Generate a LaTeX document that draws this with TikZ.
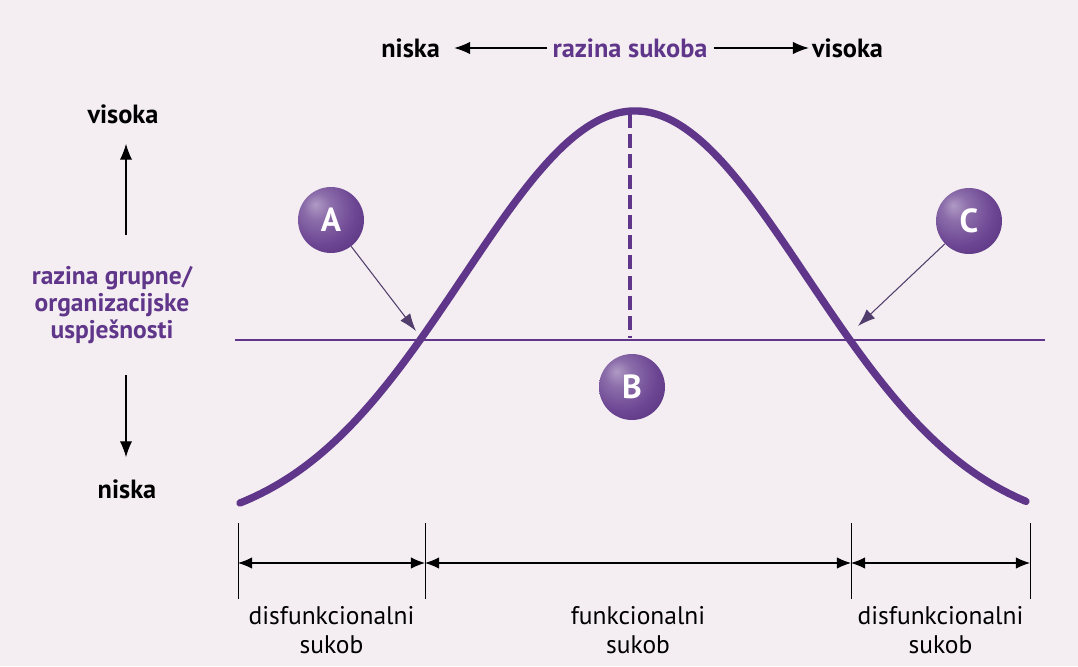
\documentclass[tikz,border=0pt]{standalone}
\usepackage{fontspec}
\setmainfont{PT Sans}
\usetikzlibrary{positioning, arrows.meta, calc}
\definecolor{conflictpurple}{RGB}{96,54,138}
\definecolor{pointerpurple}{RGB}{82,62,108}
\definecolor{paper}{RGB}{244,238,242}
\pgfdeclareradialshading{badgeball}{\pgfpoint{-12bp}{12bp}}{%
  color(0bp)=(conflictpurple!50!white);
  color(10bp)=(conflictpurple!72!white);
  color(26bp)=(conflictpurple!92!white);
  color(42bp)=(conflictpurple!88!black);
  color(70bp)=(conflictpurple!70!black)}

\begin{document}
\begin{tikzpicture}[x=0.02cm, y=-0.02cm,
    lbl/.style={font=\fontsize{15}{17}\selectfont\bfseries, inner sep=0pt},
    perf/.style={font=\fontsize{14.5}{15.5}\selectfont\bfseries, text=conflictpurple, align=center},
    zone/.style={font=\fontsize{14.5}{16.5}\selectfont, align=center, anchor=north},
    badge/.style={circle, minimum size=1.32cm, inner sep=0pt, shading=badgeball, text=white, font=\fontsize{19}{19}\selectfont\bfseries},
    axisarr/.style={semithick, -{Latex[length=9pt,width=7pt]}},
    pointer/.style={semithick, pointerpurple, -{Latex[length=10pt,width=7pt]}},
    span/.style={semithick, {Latex[length=8pt,width=6.5pt]}-{Latex[length=8pt,width=6.5pt]}},
    bell/.style={conflictpurple, line width=4.2pt, line cap=round}
]
    % paper
    \fill[paper] (0,0) rectangle (1078,666);

    % top axis: razina sukoba
    \node[lbl, text=conflictpurple] (sukob) at (630,48) {razina sukoba};
    \node[lbl] (topniska) [left=2.24cm of sukob] {niska};
    \node[lbl] (topvisoka) [right=2.08cm of sukob] {visoka};
    \draw[axisarr, shorten <=0.1cm, shorten >=0.28cm] (sukob.west) -- (topniska.east);
    \draw[axisarr, shorten <=0.12cm, shorten >=0.06cm] (sukob.east) -- (topvisoka.west);

    % left axis: uspjesnost
    \node[perf] (uspjeh) at (112,305) {razina grupne/\\organizacijske\\uspješnosti};
    \node[lbl] (leftvisoka) at (123,114) {visoka};
    \node[lbl] (leftniska) at (127,489) {niska};
    \draw[axisarr, shorten <=0.5cm, shorten >=0.4cm] (uspjeh.north -| 126,0) -- (leftvisoka.south -| 126,0);
    \draw[axisarr, shorten <=0.5cm, shorten >=0.44cm] (uspjeh.south -| 126,0) -- (leftniska.north -| 126,0);

    % curve
    \draw[conflictpurple, line width=1.6pt] (235,340) -- (1045,340);
    \draw[conflictpurple, line width=2.6pt, dash pattern=on 8pt off 3.5pt] (630,114) -- (630,338);
    \draw[bell] plot[domain=240:1026, samples=150, smooth] (\x, {533 - 422*exp(-((\x-635)/243)^2)});

    % badges
    \node[badge] (A) at (331,220) {A};
    \node[badge] (B) at (632,387) {B};
    \node[badge] (C) at (969,221) {C};
    \coordinate (hitA) at (416,331);
    \coordinate (hitC) at (858,326);
    \draw[pointer] (A) -- (hitA);
    \draw[pointer] (C) -- (hitC);

    % zones
    \foreach \n/\xx in {1/238, 2/425, 3/851, 4/1030} {
        \coordinate (t\n) at (\xx,523);
        \coordinate (m\n) at (\xx,563);
        \coordinate (b\n) at (\xx,599);
        \draw[thin] (t\n) -- (b\n);
    }
    \draw[span] (m1) -- (m2);
    \draw[span] (m2) -- (m3);
    \draw[span] (m3) -- (m4);
    \node[zone] (dis1) at ($(b1)!0.5!(b2)+(0,1)$) {disfunkcionalni\\sukob};
    \node[zone] (fun) at ($(b2)!0.5!(b3)+(0,1)$) {funkcionalni\\sukob};
    \node[zone] (dis2) at ($(b3)!0.5!(b4)+(0,1)$) {disfunkcionalni\\sukob};
\end{tikzpicture}
\end{document}
